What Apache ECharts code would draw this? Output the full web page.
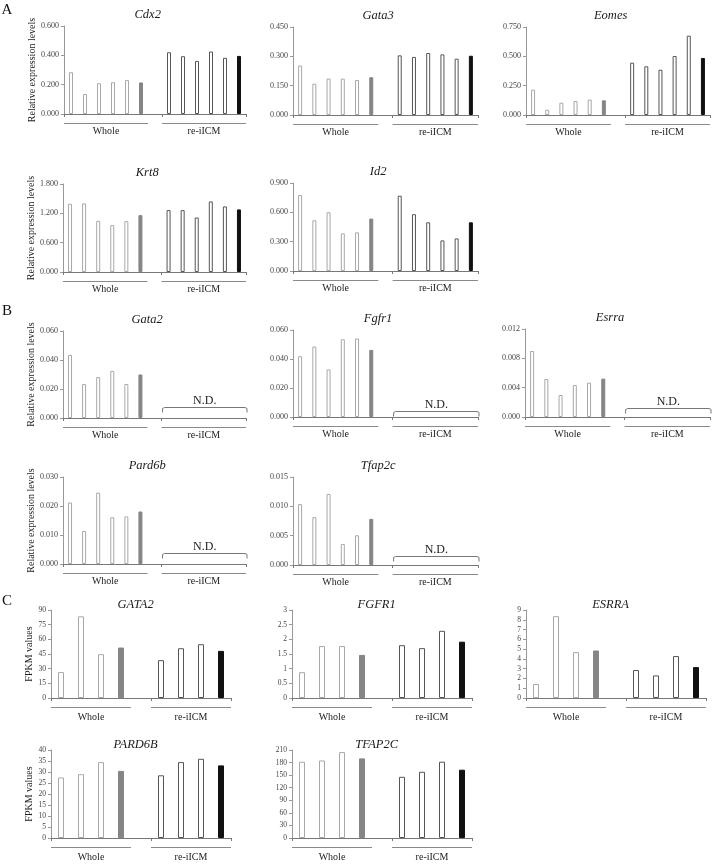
<!DOCTYPE html>
<html><head><meta charset="utf-8">
<script src="https://cdn.jsdelivr.net/npm/echarts@6/dist/echarts.min.js"></script>
<style>html,body{margin:0;padding:0;background:#fff}#c{width:713px;height:865px}</style>
</head><body><div id="c"></div>
<script>
// ---------- categories / labels ----------
const groupLabels = ['Whole', 're-iICM'];
const catsSix = ['W1','W2','W3','W4','W5','Whole mean','gap','R1','R2','R3','R4','R5','re-iICM mean'];
const catsFour = ['W1','W2','W3','Whole mean','gap','R1','R2','R3','re-iICM mean'];
const ndLabel = 'N.D.';

// ---------- Panel A (relative expression) ----------
const cdx2Whole  = [0.285, 0.136, 0.210, 0.217, 0.231, 0.215];
const cdx2Rei    = [0.421, 0.394, 0.362, 0.426, 0.383, 0.396];
const gata3Whole = [0.253, 0.160, 0.186, 0.186, 0.179, 0.193];
const gata3Rei   = [0.305, 0.297, 0.317, 0.310, 0.288, 0.303];
const eomesWhole = [0.216, 0.045, 0.105, 0.119, 0.131, 0.125];
const eomesRei   = [0.446, 0.415, 0.386, 0.503, 0.676, 0.486];
const krt8Whole  = [1.396, 1.403, 1.047, 0.958, 1.040, 1.163];
const krt8Rei    = [1.266, 1.266, 1.115, 1.443, 1.341, 1.280];
const id2Whole   = [0.777, 0.519, 0.601, 0.385, 0.395, 0.536];
const id2Rei     = [0.770, 0.581, 0.498, 0.313, 0.333, 0.498];

// ---------- Panel B (relative expression, re-iICM not detected) ----------
const gata2Whole  = [0.0435, 0.0234, 0.0282, 0.0325, 0.0234, 0.0300];
const fgfr1Whole  = [0.0419, 0.0486, 0.0328, 0.0536, 0.0541, 0.0463];
const esrraWhole  = [0.0090, 0.00518, 0.0030, 0.00436, 0.00468, 0.00523];
const pard6bWhole = [0.0212, 0.0114, 0.0246, 0.0161, 0.0164, 0.0181];
const tfap2cWhole = [0.01038, 0.00815, 0.0121, 0.00359, 0.00507, 0.00787];

// ---------- Panel C (FPKM values) ----------
const GATA2Whole  = [26.5, 83.5, 44.8, 51.6];
const GATA2Rei    = [38.7, 50.9, 55.0, 48.2];
const FGFR1Whole  = [0.88, 1.77, 1.77, 1.47];
const FGFR1Rei    = [1.80, 1.70, 2.29, 1.92];
const ESRRAWhole  = [1.43, 8.37, 4.69, 4.86];
const ESRRARei    = [2.86, 2.31, 4.29, 3.16];
const PARD6BWhole = [27.5, 29.0, 34.5, 30.5];
const PARD6BRei   = [28.5, 34.5, 36.0, 33.0];
const TFAP2CWhole = [182, 185, 205, 190];
const TFAP2CRei   = [146, 158, 182, 163];

// ---------- axis scales ----------
const yMaxA = {cdx2:0.6, gata3:0.45, eomes:0.75, krt8:1.8, id2:0.9};
const yStepA = {cdx2:0.2, gata3:0.15, eomes:0.25, krt8:0.6, id2:0.3};
const yMaxB = {gata2:0.06, fgfr1:0.06, esrra:0.012, pard6b:0.03, tfap2c:0.015};
const yStepB = {gata2:0.02, fgfr1:0.02, esrra:0.004, pard6b:0.01, tfap2c:0.005};
const yMaxC = {GATA2:90, FGFR1:3, ESRRA:9, PARD6B:40, TFAP2C:210};
const yStepC = {GATA2:15, FGFR1:0.5, ESRRA:1, PARD6B:5, TFAP2C:30};

// ---------- layout / style ----------
const SERIF = '"Liberation Serif","DejaVu Serif",serif';
const STY = {
  whole:     {color:'#ffffff', borderColor:'#a8a8a8', borderWidth:1},
  wholeMean: {color:'#858585', borderColor:'#858585', borderWidth:1},
  rei:       {color:'#ffffff', borderColor:'#555555', borderWidth:1},
  reiMean:   {color:'#111111', borderColor:'#111111', borderWidth:1}
};
const RELNAME = 'Relative expression levels';
const FPKMNAME = 'FPKM values';

const charts = [
  {t:'Cdx2',  w:cdx2Whole,  r:cdx2Rei,  max:yMaxA.cdx2,  step:yStepA.cdx2,  box:[64,26,182,88],  name:RELNAME, kind:'AB'},
  {t:'Gata3', w:gata3Whole, r:gata3Rei, max:yMaxA.gata3, step:yStepA.gata3, box:[293,27,185,88], kind:'AB'},
  {t:'Eomes', w:eomesWhole, r:eomesRei, max:yMaxA.eomes, step:yStepA.eomes, box:[526,27,184,88], kind:'AB'},
  {t:'Krt8',  w:krt8Whole,  r:krt8Rei,  max:yMaxA.krt8,  step:yStepA.krt8,  box:[63,184,183,88], name:RELNAME, kind:'AB'},
  {t:'Id2',   w:id2Whole,   r:id2Rei,   max:yMaxA.id2,   step:yStepA.id2,   box:[293,183,185,88], kind:'AB'},
  {t:'Gata2', w:gata2Whole, r:null, max:yMaxB.gata2, step:yStepB.gata2, box:[63,331,183,87], name:RELNAME, kind:'AB', nd:11},
  {t:'Fgfr1', w:fgfr1Whole, r:null, max:yMaxB.fgfr1, step:yStepB.fgfr1, box:[293,330,185,87], kind:'AB', nd:6},
  {t:'Esrra', w:esrraWhole, r:null, max:yMaxB.esrra, step:yStepB.esrra, box:[525,329,185,88], kind:'AB', nd:9},
  {t:'Pard6b',w:pard6bWhole,r:null, max:yMaxB.pard6b,step:yStepB.pard6b,box:[63,477,183,87], name:RELNAME, kind:'AB', nd:11},
  {t:'Tfap2c',w:tfap2cWhole,r:null, max:yMaxB.tfap2c,step:yStepB.tfap2c,box:[293,477,185,88], kind:'AB', nd:9},
  {t:'GATA2', w:GATA2Whole, r:GATA2Rei, max:yMaxC.GATA2, step:yStepC.GATA2, box:[51,610,180,88], name:FPKMNAME, kind:'C'},
  {t:'FGFR1', w:FGFR1Whole, r:FGFR1Rei, max:yMaxC.FGFR1, step:yStepC.FGFR1, box:[292,610,180,88], kind:'C'},
  {t:'ESRRA', w:ESRRAWhole, r:ESRRARei, max:yMaxC.ESRRA, step:yStepC.ESRRA, box:[526,610,180,88], kind:'C'},
  {t:'PARD6B',w:PARD6BWhole,r:PARD6BRei,max:yMaxC.PARD6B,step:yStepC.PARD6B,box:[51,750,180,88], name:FPKMNAME, kind:'C'},
  {t:'TFAP2C',w:TFAP2CWhole,r:TFAP2CRei,max:yMaxC.TFAP2C,step:yStepC.TFAP2C,box:[292,750,180,88], kind:'C'}
];

const option = {animation:false, backgroundColor:'#ffffff', grid:[], xAxis:[], yAxis:[], series:[], graphic:[]};
const G = option.graphic;

function txt(x, y, text, font, color) {
  G.push({type:'text', x:x, y:y, silent:true,
    style:{text:text, font:font, fill:color||'#1a1a1a', align:'center', verticalAlign:'middle',
           textAlign:'center', textVerticalAlign:'middle'}});
}
function seg(x1, y1, x2, y2, color) {
  G.push({type:'line', silent:true, shape:{x1:x1, y1:y1, x2:x2, y2:y2},
    style:{stroke:color||'#8a8a8a', lineWidth:1}});
}

[['A',7,10],['B',7,311],['C',7,601]].forEach(p => txt(p[1], p[2], p[0], '15px ' + SERIF, '#111'));

charts.forEach((c, i) => {
  const [L, T, W, H] = c.box;
  const isC = c.kind === 'C';
  const cats = isC ? catsFour : catsSix;
  const n = c.w.length;
  option.grid.push({left:L, top:T, width:W, height:H});
  option.xAxis.push({type:'category', gridIndex:i, data:cats, boundaryGap:true,
    axisLine:{show:true, lineStyle:{color:'#777', width:1}},
    axisTick:{show:true, length:3, lineStyle:{color:'#777'}},
    axisLabel:{show:false}, splitLine:{show:false}});
  const ya = {type:'value', gridIndex:i, min:0, max:c.max, interval:c.step,
    axisLine:{show:true, lineStyle:{color:'#999', width:1}},
    axisTick:{show:true, length:3, lineStyle:{color:'#999'}},
    axisLabel:{fontFamily:SERIF, fontSize:isC ? 7.5 : 8, color:'#444', margin:5},
    splitLine:{show:false}};
  if (!isC) ya.axisLabel.formatter = v => v.toFixed(3);
  if (c.name) {
    ya.name = c.name; ya.nameLocation = 'middle'; ya.nameGap = isC ? 15 : 27;
    ya.nameTextStyle = {fontFamily:SERIF, fontSize:10, color:'#222'};
  }
  option.yAxis.push(ya);

  const data = [];
  c.w.forEach((v, k) => data.push({value:v, itemStyle: k === n - 1 ? STY.wholeMean : STY.whole}));
  data.push('-');
  if (c.r) c.r.forEach((v, k) => data.push({value:v, itemStyle: k === n - 1 ? STY.reiMean : STY.rei}));
  else for (let k = 0; k < n; k++) data.push('-');
  option.series.push({type:'bar', xAxisIndex:i, yAxisIndex:i, data:data, barWidth:isC ? 6 : 4, silent:true});

  // title
  txt(L + W * (isC ? 0.47 : 0.46), T + (isC ? -5 : -11), c.t, 'italic 12.5px ' + SERIF, '#1a1a1a');

  // group underlines + labels
  const band = W / cats.length;
  const base = T + H;
  const wx1 = L, wx2 = L + band * n;
  const rx1 = L + band * (n + 1), rx2 = L + W;
  const uy = base + 9.5;
  const ly = base + (isC ? 19 : 17);
  seg(wx1, uy, wx2, uy, '#8a8a8a');
  seg(rx1, uy, rx2, uy, '#8a8a8a');
  txt((wx1 + wx2) / 2, ly, groupLabels[0], '10px ' + SERIF, '#222');
  txt((rx1 + rx2) / 2, ly, groupLabels[1], '10px ' + SERIF, '#222');

  // N.D. bracket
  if (!c.r && c.nd) {
    const by = base - c.nd + 0.5;
    const bx1 = rx1 + 1, bx2 = rx2 + 1;
    G.push({type:'polyline', silent:true,
      shape:{points:[[bx1, by + 5], [bx1, by + 1], [bx1 + 2, by], [bx2 - 2, by], [bx2, by + 1], [bx2, by + 5]]},
      style:{stroke:'#777', lineWidth:1, fill:null}});
    txt((bx1 + bx2) / 2, by - 7, ndLabel, '12px ' + SERIF, '#222');
  }
});

const chart = echarts.init(document.getElementById('c'), null, {renderer:'canvas'});
chart.setOption(option);
</script>
</body></html>
